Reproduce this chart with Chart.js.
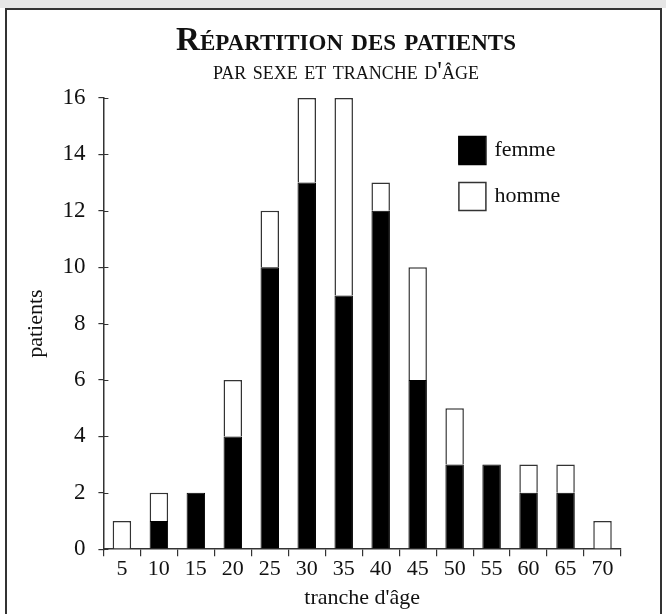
<!DOCTYPE html>
<html>
<head>
<meta charset="utf-8">
<script src="https://cdn.jsdelivr.net/npm/chart.js@4.4.1/dist/chart.umd.min.js"></script>
<style>
  html, body { margin: 0; padding: 0; background: #fff; }
  #wrap { position: relative; width: 666px; height: 614px; }
</style>
</head>
<body>
<div id="wrap"><canvas id="myChart" width="666" height="614"></canvas></div>
<script>
/* data */
const tranches = ['5', '10', '15', '20', '25', '30', '35', '40', '45', '50', '55', '60', '65', '70'];
const femmes = [0, 1, 2, 4, 10, 13, 9, 12, 6, 3, 3, 2, 2, 0];
const hommes = [1, 1, 0, 2, 2, 3, 7, 1, 4, 2, 0, 1, 1, 1];
const yTicks = [0, 2, 4, 6, 8, 10, 12, 14, 16];

const serif = "'Liberation Serif', 'DejaVu Serif', serif";
const ink = '#111';

/* frame + little watermark strip at the top */
const cadre = {
    id: 'cadre',
    beforeDraw(chart) {
        const c = chart.ctx;
        c.save();
        c.fillStyle = '#e6e6e6';
        c.fillRect(0, 0, chart.width, 8);
        c.strokeStyle = '#333';
        c.lineWidth = 2;
        c.beginPath();
        c.moveTo(6, chart.height + 2);
        c.lineTo(6, 9);
        c.lineTo(chart.width - 5, 9);
        c.lineTo(chart.width - 5, chart.height + 2);
        c.stroke();
        c.restore();
    }
};

/* titles sit a bit right of the canvas centre */
const decaleTitres = {
    id: 'decaleTitres',
    afterLayout(chart) {
        chart.boxes.forEach(b => {
            if (b.position === 'top' && b.options && b.options.text !== undefined) {
                b.left += 24;
                b.right += 24;
            }
        });
    }
};

/* tick marks crossing the axes */
const ticksCroises = {
    id: 'ticksCroises',
    afterDatasetsDraw(chart) {
        const c = chart.ctx;
        const y = chart.scales.y;
        const left = chart.chartArea.left;
        c.save();
        c.strokeStyle = '#333';
        c.lineWidth = 1.2;
        c.beginPath();
        yTicks.forEach(v => {
            const py = Math.round(y.getPixelForValue(v)) + 0.5;
            c.moveTo(left, py);
            c.lineTo(left + 5, py);
        });
        c.stroke();
        c.restore();
    }
};

/* legend drawn inside the plot */
const legende = {
    id: 'legende',
    afterDraw(chart) {
        const c = chart.ctx;
        const a = chart.chartArea;
        const x0 = a.left + 355;
        let y0 = a.top + 38;
        c.save();
        c.font = '22px ' + serif;
        c.textBaseline = 'middle';
        chart.data.datasets.forEach(ds => {
            c.fillStyle = ds.backgroundColor;
            c.fillRect(x0, y0, 27, 28);
            c.strokeStyle = ds.borderColor;
            c.lineWidth = 1.5;
            c.strokeRect(x0 + 0.5, y0 + 0.5, 27, 28);
            c.fillStyle = ink;
            c.fillText(ds.label, x0 + 36, y0 + 14);
            y0 += 46;
        });
        c.restore();
    }
};

const chart = new Chart(document.getElementById('myChart'), {
    type: 'bar',
    data: {
        labels: tranches,
        datasets: [{
            label: 'femme',
            data: femmes,
            backgroundColor: '#000',
            borderColor: '#000',
            borderWidth: 1,
            barPercentage: 0.5,
            categoryPercentage: 1
        }, {
            label: 'homme',
            data: hommes,
            backgroundColor: '#fff',
            borderColor: '#333',
            borderWidth: 1.5,
            barPercentage: 0.5,
            categoryPercentage: 1
        }]
    },
    options: {
        responsive: false,
        animation: false,
        layout: {
            padding: { left: 23, right: 45, top: 0, bottom: 3 }
        },
        plugins: {
            legend: { display: false },
            tooltip: { enabled: false },
            title: {
                display: true,
                text: 'Répartition des patients',
                color: ink,
                font: { family: serif, size: 33, weight: 'small-caps bold', lineHeight: 1 },
                padding: { top: 25, bottom: 0 }
            },
            subtitle: {
                display: true,
                text: "par sexe et tranche d'âge",
                color: ink,
                font: { family: serif, size: 26, weight: 'small-caps normal', lineHeight: 1 },
                padding: { top: 1, bottom: 13 }
            }
        },
        scales: {
            x: {
                stacked: true,
                grid: {
                    drawOnChartArea: false,
                    offset: true,
                    color: '#333',
                    lineWidth: 1.2,
                    tickLength: 7
                },
                border: { color: '#333', width: 1.5 },
                ticks: {
                    color: ink,
                    font: { family: serif, size: 22 },
                    padding: 0,
                    maxRotation: 0
                },
                title: {
                    display: true,
                    text: "tranche d'âge",
                    color: ink,
                    font: { family: serif, size: 22 },
                    padding: { top: 2, bottom: 0 }
                }
            },
            y: {
                stacked: true,
                min: 0,
                max: 16,
                afterBuildTicks: axis => { axis.ticks = yTicks.map(v => ({ value: v })); },
                grid: {
                    drawOnChartArea: false,
                    color: '#333',
                    lineWidth: 1.2,
                    tickLength: 5
                },
                border: { color: '#333', width: 1.5 },
                ticks: {
                    color: ink,
                    font: { family: serif, size: 23 },
                    padding: 13
                },
                title: {
                    display: true,
                    text: 'patients',
                    color: ink,
                    font: { family: serif, size: 22 },
                    padding: { top: 0, bottom: 0 }
                }
            }
        }
    },
    plugins: [cadre, decaleTitres, ticksCroises, legende]
});
</script>
</body>
</html>
